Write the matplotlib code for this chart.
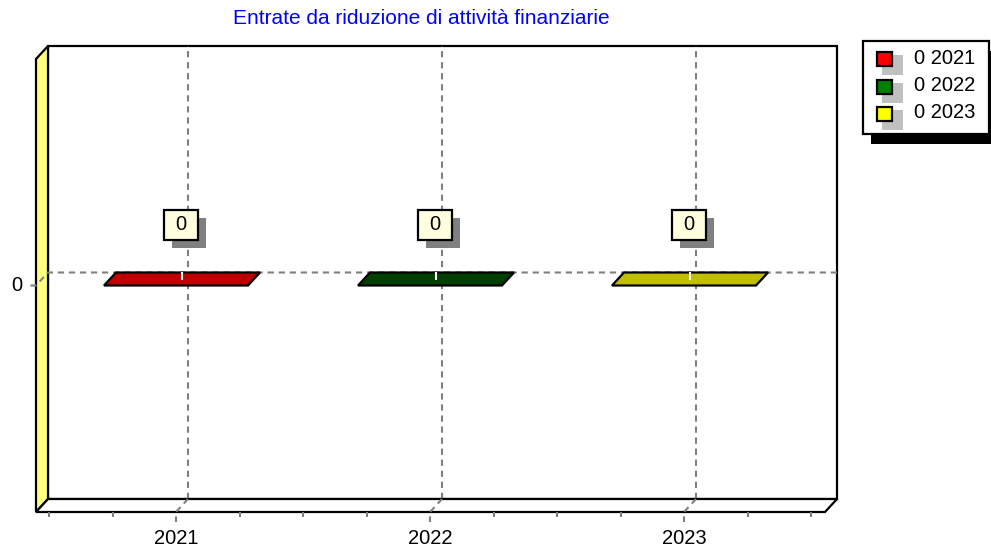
import numpy as np
import matplotlib
matplotlib.use("Agg")
import matplotlib.pyplot as plt
import matplotlib.patches as mpatches
import matplotlib.transforms as mtransforms

plt.rcParams['font.family'] = ['Liberation Sans', 'DejaVu Sans']

title = "Entrate da riduzione di attività finanziarie"
years = ["2021", "2022", "2023"]
values = [0, 0, 0]
legend_colors = ["#FF0000", "#008000", "#FFFF00"]
top_colors = ["#BF0000", "#004000", "#BFBF00"]

W, H = 991, 557
fig = plt.figure(figsize=(W / 100, H / 100), dpi=100)

# back wall of the pseudo-3D box, in pixels
wall_l, wall_t, wall_w, wall_h = 48, 46, 789, 453
ax = fig.add_axes([wall_l / W, 1 - (wall_t + wall_h) / H, wall_w / W, wall_h / H])
ax.axis("off")

ux = 1 / 254          # category units per pixel
uy = 2 / wall_h       # value units per pixel
xmin = -0.5 - 13 * ux
xmax = xmin + wall_w * ux
ax.set_xlim(xmin, xmax)
ax.set_ylim(-1, 1)
ddx, ddy = -12 * ux, -13 * uy   # depth offset (front face)

lw = 1.6
glw = 1.5
grey = "#808080"
dash = (3, 2.3)
fs = 14.5

# walls
ax.add_patch(mpatches.Rectangle((xmin, -1), xmax - xmin, 2, facecolor="white",
                                edgecolor="black", lw=lw, zorder=1, clip_on=False))
ax.add_patch(mpatches.Polygon([(xmin, -1), (xmin, 1), (xmin + ddx, 1 + ddy), (xmin + ddx, -1 + ddy)],
                              closed=True, facecolor="#FFFF80", edgecolor="black", lw=lw,
                              zorder=2, clip_on=False, joinstyle="miter"))
ax.add_patch(mpatches.Polygon([(xmin, -1), (xmax, -1), (xmax + ddx, -1 + ddy), (xmin + ddx, -1 + ddy)],
                              closed=True, facecolor="white", edgecolor="black", lw=lw,
                              zorder=2, clip_on=False, joinstyle="miter"))

x = np.arange(len(years))

# grid lines
for c in x:
    ax.plot([c, c], [-1, 1], color=grey, lw=glw, dashes=dash, zorder=1.5, clip_on=False)
    ax.plot([c, c + ddx, c + ddx], [-1, -1 + ddy, -1 + ddy - 10 * uy], color=grey, lw=glw,
            dashes=dash, zorder=3, clip_on=False)
ax.plot([xmax, xmin, xmin + ddx, xmin + ddx - 10 * ux], [0, 0, ddy, ddy], color=grey, lw=glw,
        dashes=dash, zorder=3, clip_on=False)

# minor ticks under the floor
minor = np.arange(-0.5, 2.51, 0.25)
minor = minor[np.abs(minor - np.round(minor)) > 1e-6]
ax.vlines(minor + ddx, -1 + ddy - 5 * uy, -1 + ddy, colors=grey, lw=glw, zorder=3, clip_on=False)

# x labels and y label
for c, yr in zip(x, years):
    ax.text(c + ddx, -1 + ddy - 26 * uy, yr, ha="center", va="center", fontsize=fs, clip_on=False)
ax.text(xmin + ddx - 14 * ux, ddy, "0", ha="right", va="center", fontsize=fs)

# flat bars (value 0)
bw = 144 * ux
for c, v, col in zip(x, values, top_colors):
    pts = [(c - bw / 2 + ddx, v + ddy), (c + bw / 2 + ddx, v + ddy),
           (c + bw / 2, v), (c - bw / 2, v)]
    ax.add_patch(mpatches.Polygon(pts, closed=True, facecolor=col, edgecolor="black",
                                  lw=lw, zorder=4, clip_on=False, joinstyle="miter"))
    ax.plot([c + ddx / 2, c + ddx / 2], [v, v + ddy / 2], color="white", lw=1.5, zorder=5)

    # value label box with shadow, placed in pixels relative to the bar
    anchor = mtransforms.ScaledTranslation(c, v, ax.transData)
    t = mtransforms.Affine2D() + anchor
    ax.add_patch(mpatches.Rectangle((-16, 25), 34, 30, facecolor=grey, edgecolor="none",
                                    transform=t, zorder=6, clip_on=False))
    ax.add_patch(mpatches.Rectangle((-24, 33), 34, 30, facecolor="#FFFFE0", edgecolor="black",
                                    lw=lw, transform=t, zorder=7, clip_on=False))
    ax.text(-7, 48, f"{v}", transform=t, ha="center", va="center", fontsize=fs, zorder=8)

# title
fig.text(421 / W, 1 - 18 / H, title, color="#0000FF", ha="center", va="center", fontsize=15)

# legend, drawn in figure pixels
lg = fig.add_axes([0, 0, 1, 1], facecolor="none")
lg.set_xlim(0, W)
lg.set_ylim(H, 0)
lg.axis("off")
lg.add_patch(mpatches.Rectangle((871, 51), 126, 93, facecolor="black", edgecolor="none", clip_on=False))
lg.add_patch(mpatches.Rectangle((863, 41), 126, 93, facecolor="white", edgecolor="black", lw=lw))
for i, (yr, v, col) in enumerate(zip(years, values, legend_colors)):
    yc = 58 + i * 27.5
    lg.add_patch(mpatches.Rectangle((882, yc - 3), 21, 20, facecolor="#C0C0C0", edgecolor="none"))
    lg.add_patch(mpatches.Rectangle((877, yc - 6), 15, 14, facecolor=col, edgecolor="black", lw=lw))
    lg.text(914, yc, f"{v} {yr}", ha="left", va="center", fontsize=fs)

fig.savefig("out.png", dpi=100)
